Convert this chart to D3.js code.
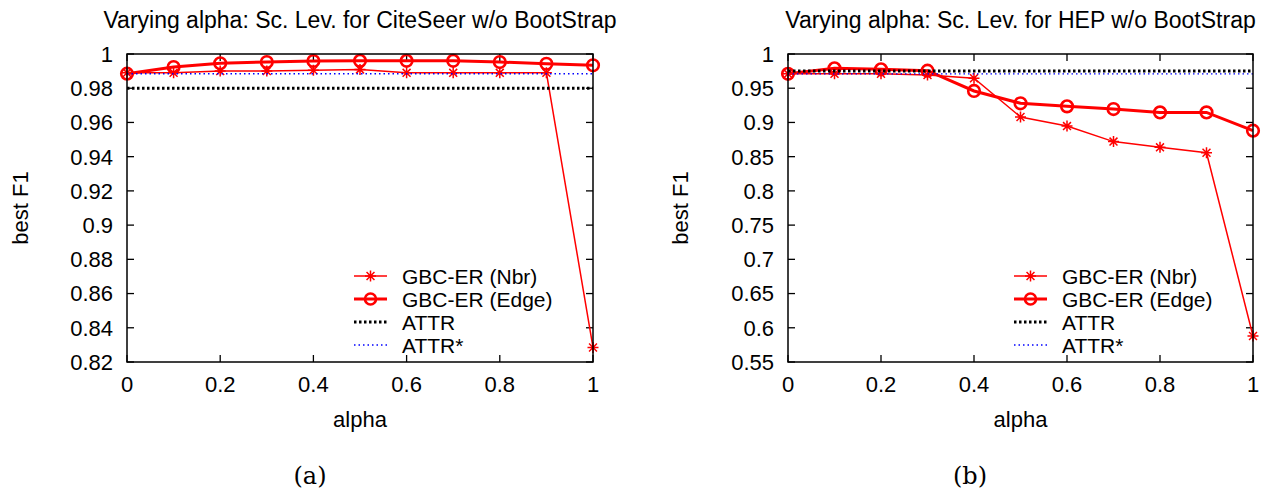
<!DOCTYPE html>
<html><head><meta charset="utf-8">
<script src="https://cdn.jsdelivr.net/npm/d3@7"></script>
<style>
body{margin:0;background:#fff;}
svg{display:block;}
text{font-family:"Liberation Sans",Arial,sans-serif;fill:#000;}
</style></head>
<body>
<svg id="c" width="1264" height="493"></svg>
<script>
const alphas = [0,0.1,0.2,0.3,0.4,0.5,0.6,0.7,0.8,0.9,1.0];
const xTicks = [0,0.2,0.4,0.6,0.8,1];
const xTickLabels = ["0","0.2","0.4","0.6","0.8","1"];

// Panel (a): CiteSeer
const citeNbr  = [0.989,0.989,0.990,0.990,0.9905,0.991,0.989,0.989,0.989,0.989,0.8285];
const citeEdge = [0.9885,0.9924,0.9946,0.9953,0.9959,0.996,0.996,0.996,0.9953,0.9943,0.9934];
const citeAttr = 0.980;
const citeAttrStar = 0.9885;
const citeYTicks = [0.82,0.84,0.86,0.88,0.9,0.92,0.94,0.96,0.98,1];
const citeYTickLabels = ["0.82","0.84","0.86","0.88","0.9","0.92","0.94","0.96","0.98","1"];

// Panel (b): HEP
const hepNbr  = [0.971,0.971,0.971,0.9693,0.9645,0.908,0.8947,0.872,0.8636,0.8557,0.588];
const hepEdge = [0.971,0.979,0.9776,0.9756,0.946,0.928,0.9235,0.9196,0.9147,0.9147,0.888];
const hepAttr = 0.975;
const hepAttrStar = 0.971;
const hepYTicks = [0.55,0.6,0.65,0.7,0.75,0.8,0.85,0.9,0.95,1];
const hepYTickLabels = ["0.55","0.6","0.65","0.7","0.75","0.8","0.85","0.9","0.95","1"];

const titles = ["Varying alpha: Sc. Lev. for CiteSeer w/o BootStrap","Varying alpha: Sc. Lev. for HEP w/o BootStrap"];
const captions = ["(a)","(b)"];
const legendNames = ["GBC-ER (Nbr)","GBC-ER (Edge)","ATTR","ATTR*"];

const svg = d3.select("#c");

const panels = [
  {x0:127,x1:593,nbr:citeNbr,edge:citeEdge,attr:citeAttr,attrS:citeAttrStar,yd:[0.82,1],yt:citeYTicks,ytl:citeYTickLabels,title:titles[0],cap:captions[0],ylx:20,legX:354,capX:310},
  {x0:788,x1:1253,nbr:hepNbr,edge:hepEdge,attr:hepAttr,attrS:hepAttrStar,yd:[0.55,1],yt:hepYTicks,ytl:hepYTickLabels,title:titles[1],cap:captions[1],ylx:680,legX:1014,capX:970}
];
const yTop=54, yBot=362;
const FS = 22;

function star(g, cx, cy, s, color, w){
  const a = s*0.72;
  g.append("path")
   .attr("d",`M${cx-s},${cy}L${cx+s},${cy}M${cx},${cy-s}L${cx},${cy+s}M${cx-a},${cy-a}L${cx+a},${cy+a}M${cx-a},${cy+a}L${cx+a},${cy-a}`)
   .attr("stroke",color).attr("stroke-width",w).attr("fill","none");
}

panels.forEach(p=>{
  const x = d3.scaleLinear().domain([0,1]).range([p.x0,p.x1]);
  const y = d3.scaleLinear().domain(p.yd).range([yBot,yTop]);
  const g = svg.append("g");
  const tl = 7;

  p.yt.forEach((t,i)=>{
    const yy = y(t);
    g.append("line").attr("x1",p.x0).attr("x2",p.x0+tl).attr("y1",yy).attr("y2",yy).attr("stroke","#000").attr("stroke-width",1.3);
    g.append("line").attr("x1",p.x1).attr("x2",p.x1-tl).attr("y1",yy).attr("y2",yy).attr("stroke","#000").attr("stroke-width",1.3);
    g.append("text").attr("x",p.x0-14).attr("y",yy).attr("dy","0.36em").attr("text-anchor","end").attr("font-size",FS).text(p.ytl[i]);
  });
  xTicks.forEach((t,i)=>{
    const xx = x(t);
    g.append("line").attr("x1",xx).attr("x2",xx).attr("y1",yBot).attr("y2",yBot-tl).attr("stroke","#000").attr("stroke-width",1.3);
    g.append("line").attr("x1",xx).attr("x2",xx).attr("y1",yTop).attr("y2",yTop+tl).attr("stroke","#000").attr("stroke-width",1.3);
    g.append("text").attr("x",xx).attr("y",392).attr("text-anchor","middle").attr("font-size",FS).text(xTickLabels[i]);
  });

  const cid = "clip"+p.x0;
  svg.append("clipPath").attr("id",cid).append("rect").attr("x",p.x0-8).attr("y",yTop-8).attr("width",p.x1-p.x0+16).attr("height",yBot-yTop+16);
  const pg = g.append("g").attr("clip-path",`url(#${cid})`);

  const line = d3.line().x((d,i)=>x(alphas[i])).y(d=>y(d));

  pg.append("path").datum(p.nbr).attr("d",line).attr("fill","none").attr("stroke","#ff0000").attr("stroke-width",1.5);
  p.nbr.forEach((v,i)=>star(pg,x(alphas[i]),y(v),5.5,"#ff0000",1.5));
  pg.append("path").datum(p.edge).attr("d",line).attr("fill","none").attr("stroke","#ff0000").attr("stroke-width",3);
  p.edge.forEach((v,i)=>pg.append("circle").attr("cx",x(alphas[i])).attr("cy",y(v)).attr("r",5.8).attr("fill","none").attr("stroke","#ff0000").attr("stroke-width",2.6));
  pg.append("line").attr("x1",p.x0).attr("x2",p.x1).attr("y1",y(p.attr)).attr("y2",y(p.attr)).attr("stroke","#000").attr("stroke-width",3).attr("stroke-dasharray","2.5,2.5");
  pg.append("line").attr("x1",p.x0).attr("x2",p.x1).attr("y1",y(p.attrS)).attr("y2",y(p.attrS)).attr("stroke","#0000ff").attr("stroke-width",1.4).attr("stroke-dasharray","1.5,3");

  g.append("rect").attr("x",p.x0).attr("y",yTop).attr("width",p.x1-p.x0).attr("height",yBot-yTop).attr("fill","none").attr("stroke","#000").attr("stroke-width",1.5);

  g.append("text").attr("x",(p.x0+p.x1)/2).attr("y",28).attr("text-anchor","middle").attr("font-size",23).text(p.title);
  g.append("text").attr("x",(p.x0+p.x1)/2).attr("y",427).attr("text-anchor","middle").attr("font-size",FS).text("alpha");
  g.append("text").attr("transform",`translate(${p.ylx+8},${(yTop+yBot)/2}) rotate(-90)`).attr("text-anchor","middle").attr("font-size",FS).text("best F1");
  g.append("text").attr("x",p.capX).attr("y",484).attr("text-anchor","middle").attr("font-size",24).style("font-family","'DejaVu Serif','Liberation Serif',serif").text(p.cap);

  const rows = [276,299,322,345];
  const lx0 = p.legX, lx1 = p.legX+33;
  rows.forEach((ry,i)=>{
    if(i===0){
      g.append("line").attr("x1",lx0).attr("x2",lx1).attr("y1",ry).attr("y2",ry).attr("stroke","#ff0000").attr("stroke-width",1.5);
      star(g,(lx0+lx1)/2,ry,5.5,"#ff0000",1.5);
    } else if(i===1){
      g.append("line").attr("x1",lx0).attr("x2",lx1).attr("y1",ry).attr("y2",ry).attr("stroke","#ff0000").attr("stroke-width",3);
      g.append("circle").attr("cx",(lx0+lx1)/2).attr("cy",ry).attr("r",5.5).attr("fill","none").attr("stroke","#ff0000").attr("stroke-width",2.6);
    } else if(i===2){
      g.append("line").attr("x1",lx0).attr("x2",lx1).attr("y1",ry).attr("y2",ry).attr("stroke","#000").attr("stroke-width",3).attr("stroke-dasharray","2.5,2.5");
    } else {
      g.append("line").attr("x1",lx0).attr("x2",lx1).attr("y1",ry).attr("y2",ry).attr("stroke","#0000ff").attr("stroke-width",1.4).attr("stroke-dasharray","1.5,3");
    }
    g.append("text").attr("x",lx1+15).attr("y",ry).attr("dy","0.36em").attr("font-size",21).text(legendNames[i]);
  });
});
</script>
</body></html>
